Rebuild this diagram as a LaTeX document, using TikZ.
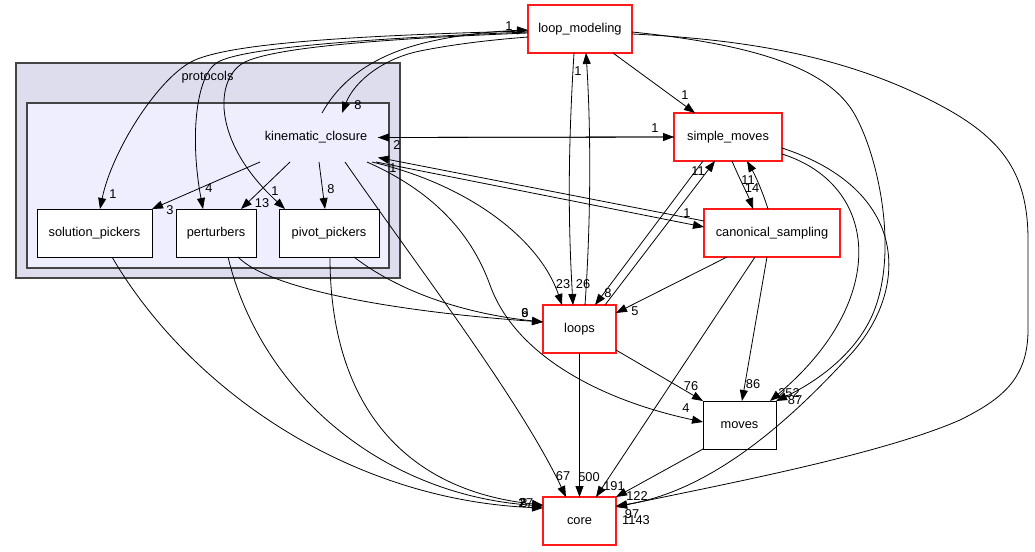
\documentclass[tikz,border=0pt]{standalone}
\usepackage{fontspec}
\setmainfont{Liberation Sans}
\usetikzlibrary{arrows.meta}
\definecolor{clout}{HTML}{DDDDEE}
\definecolor{clin}{HTML}{EEEEFF}
\definecolor{clbord}{HTML}{444444}
\definecolor{redb}{HTML}{FF1A1A}
\begin{document}
\begin{tikzpicture}[x=1pt,y=-1pt,
  every node/.style={inner sep=0pt,outer sep=0pt},
  nfont/.style={font=\fontsize{12.8}{15}\selectfont},
  dirbox/.style={draw=black,fill=white,line width=1pt,nfont,minimum height=48pt},
  redbox/.style={draw=redb,fill=white,line width=1.2pt,nfont,minimum height=48pt},
  clusbox/.style={draw=clbord,line width=1.3pt},
  dep/.style={draw=black,line width=0.8pt,-{Triangle[length=11pt,width=8pt]}},
  lab/.style={font=\fontsize{12.8}{15}\selectfont},
]
\useasboundingbox (0,0) rectangle (1035,551);
\fill[white] (0,0) rectangle (1035,551);

% clusters
\node[clusbox,fill=clout,minimum width=384pt,minimum height=215pt] (protocols) at (208,170.5) {};
\node[nfont] (protolab) at (207.5,77) {protocols};
\node[clusbox,fill=clin,minimum width=362pt,minimum height=165pt] (kcclus) at (208,185.5) {};
\node[nfont,minimum width=124pt,minimum height=49pt] (kc) at (316,137.5) {kinematic\_closure};

% directory nodes
\node[dirbox,minimum width=115pt] (sp) at (94.5,233) {solution\_pickers};
\node[dirbox,minimum width=80pt] (pt) at (216,233) {perturbers};
\node[dirbox,minimum width=100pt] (pp) at (329,233) {pivot\_pickers};
\node[redbox,minimum width=104pt] (lm) at (580,29) {loop\_modeling};
\node[redbox,minimum width=108pt] (sm) at (728,137) {simple\_moves};
\node[redbox,minimum width=136pt] (cs) at (772,233) {canonical\_sampling};
\node[redbox,minimum width=73pt] (lp) at (579.5,329) {loops};
\node[dirbox,minimum width=73pt] (mv) at (739.5,425) {moves};
\node[redbox,minimum width=73pt] (co) at (579.5,521) {core};

% kinematic_closure -> subdirs
\draw[dep] ([xshift=-56pt]kc.south) -- (sp.north east);
\draw[dep] ([xshift=-26pt]kc.south) -- ([xshift=25pt]pt.north);
\draw[dep] ([xshift=3pt]kc.south) -- ([xshift=-4pt]pp.north);

% loop_modeling -> subdirs
\draw[dep] ([yshift=-2pt]lm.west) .. controls (330,36) and (230,45) .. (195,60) .. controls (160,75) and (112,150) .. ([xshift=5.5pt]sp.north);
\draw[dep] ([yshift=-3pt]lm.west) .. controls (330,40) and (240,50) .. (218,62) .. controls (195,75) and (190,140) .. ([xshift=-13pt]pt.north);
\draw[dep] ([yshift=-4pt]lm.west) .. controls (350,40) and (270,50) .. (245,62) .. controls (215,77) and (210,140) .. ([xshift=-44pt]pp.north);

% kinematic_closure <-> loop_modeling
\draw[dep] ([xshift=6pt]kc.north) .. controls (335,90) and (360,60) .. (420,44) .. controls (458,34) and (500,31) .. ([yshift=-1pt]lm.west);
\draw[dep] ([yshift=-8pt]lm.west) .. controls (490,40) and (455,44) .. (420,51) .. controls (385,58) and (355,80) .. ([xshift=26pt]kc.north);

% kinematic_closure <-> simple_moves
\draw[dep] (sm.west) -- (kc.east);
\draw[dep] (kc.east) -- (sm.west);

% kinematic_closure <-> canonical_sampling
\draw[dep] ([yshift=12pt]cs.west) -- ([yshift=-20pt]kc.east);
\draw[dep] ([xshift=60pt]kc.south) -- ([yshift=6pt]cs.west);

% kinematic_closure -> loops, moves, core
\draw[dep] ([xshift=56pt]kc.south) .. controls (470,185) and (540,240) .. ([xshift=-17.5pt]lp.north);
\draw[dep] ([xshift=51pt]kc.south) .. controls (430,190) and (470,230) .. (490,285) .. controls (515,355) and (600,400) .. ([yshift=3pt]mv.west);
\draw[dep] ([xshift=29pt]kc.south) .. controls (420,270) and (520,400) .. ([xshift=-13.5pt]co.north);

% loop_modeling <-> loops, simple_moves
\draw[dep] ([xshift=-6pt]lm.south) .. controls (568,150) and (568,220) .. ([xshift=-6.5pt]lp.north);
\draw[dep] ([xshift=5.5pt]lp.north) .. controls (591,220) and (591,130) .. ([xshift=6pt]lm.south);
\draw[dep] ([xshift=33pt]lm.south) -- ([xshift=-33pt]sm.north);

% simple_moves <-> loops
\draw[dep] ([xshift=-25pt]sm.south) -- ([xshift=15.5pt]lp.north);
\draw[dep] ([xshift=25.5pt]lp.north) -- ([xshift=-13pt]sm.south);

% simple_moves <-> canonical_sampling
\draw[dep] ([xshift=4pt]sm.south) .. controls (740,180) and (748,195) .. ([xshift=-19pt]cs.north);
\draw[dep] ([xshift=-4pt]cs.north) .. controls (762,190) and (755,175) .. ([xshift=19pt]sm.south);

% canonical_sampling -> loops, core, moves
\draw[dep] ([xshift=-45pt]cs.south) -- ([yshift=-8pt]lp.north east);
\draw[dep] ([xshift=-17pt]cs.south) -- ([xshift=16.5pt]co.north);
\draw[dep] ([xshift=-5pt]cs.south) -- ([xshift=2.5pt]mv.north);

% loops -> moves, core ; moves -> core
\draw[dep] ([yshift=3pt]lp.south east) -- (mv.north west);
\draw[dep] (lp.south) -- (co.north);
\draw[dep] (mv.south west) -- (co.north east);

% simple_moves -> moves, core
\draw[dep] ([yshift=-17pt]sm.east) .. controls (880,185) and (890,300) .. ([xshift=-6pt]mv.north east);
\draw[dep] ([yshift=-11pt]sm.east) .. controls (910,190) and (910,290) .. (850,355) .. controls (804,405) and (720,490) .. ([yshift=15pt]co.east);

% loop_modeling -> moves, core
\draw[dep] ([yshift=-3pt]lm.east) .. controls (760,45) and (830,70) .. (855,115) .. controls (880,160) and (900,260) .. (870,320) .. controls (850,360) and (810,385) .. (mv.north east);
\draw[dep] ([yshift=-5pt]lm.east) .. controls (760,40) and (850,60) .. (930,100) .. controls (1000,135) and (1028,170) .. (1028,240) -- (1028,330) .. controls (1028,380) and (1000,400) .. (960,420) .. controls (880,455) and (720,485) .. ([yshift=14pt]co.east);

% subdirs -> loops, core
\draw[dep] ([xshift=17.5pt]sp.south) .. controls (190,390) and (350,500) .. ([yshift=13pt]co.west);
\draw[dep] ([xshift=12pt]pt.south) .. controls (260,390) and (380,495) .. ([yshift=15pt]co.west);
\draw[dep] ([xshift=22pt]pt.south) .. controls (270,290) and (400,312) .. ([yshift=7pt]lp.west);
\draw[dep] ([xshift=1pt]pp.south) .. controls (330,400) and (400,490) .. ([yshift=16pt]co.west);
\draw[dep] ([xshift=25pt]pp.south) .. controls (390,285) and (450,312) .. ([yshift=7pt]lp.west);

% edge labels
\node[lab] (l01) at (170,210) {3};
\node[lab] (l02) at (262,203) {13};
\node[lab] (l03) at (331,189) {8};
\node[lab] (l04) at (113,194) {1};
\node[lab] (l05) at (209,188) {4};
\node[lab] (l06) at (275,191) {1};
\node[lab] (l07) at (509,26) {1};
\node[lab] (l08) at (358,105) {8};
\node[lab] (l09) at (397,145) {2};
\node[lab] (l10) at (655,128) {1};
\node[lab] (l11) at (393,168) {1};
\node[lab] (l12) at (687,213) {1};
\node[lab] (l13) at (563,284) {23};
\node[lab] (l14) at (583,284) {26};
\node[lab] (l15) at (578,71) {1};
\node[lab] (l16) at (685,95) {1};
\node[lab] (l17) at (608,293) {8};
\node[lab] (l18) at (698,171) {11};
\node[lab] (l19) at (752,188) {14};
\node[lab] (l20) at (748,180) {11};
\node[lab] (l21) at (635,311) {5};
\node[lab] (l22) at (614,486) {191};
\node[lab] (l23) at (753,384) {86};
\node[lab] (l24) at (691,386) {76};
\node[lab] (l25) at (589,477) {500};
\node[lab] (l26) at (637,496) {122};
\node[lab] (l27) at (563,476) {67};
\node[lab] (l28) at (686,408) {4};
\node[lab] (l29) at (789,393) {252};
\node[lab] (l30) at (795,400) {87};
\node[lab] (l31) at (632,514) {97};
\node[lab] (l32) at (636,520) {1143};
\node[lab] (l33) at (525,313) {6};
\node[lab] (l34) at (525,313) {9};
\node[lab] (l35) at (522,503) {2};
\node[lab] (l36) at (526,503) {27};
\node[lab] (l37) at (524,503) {8};
\end{tikzpicture}
\end{document}
